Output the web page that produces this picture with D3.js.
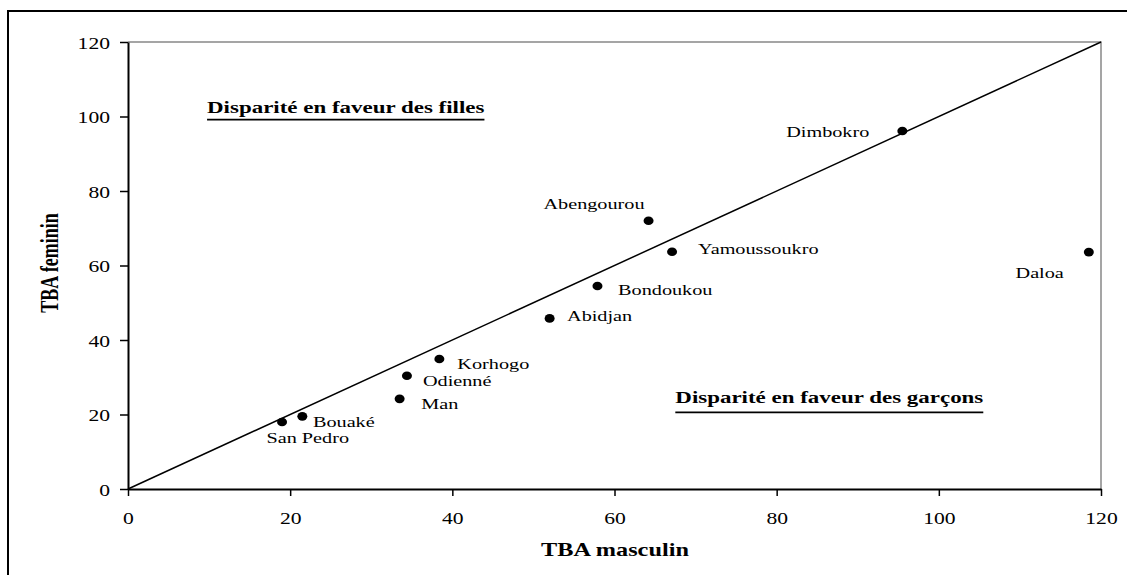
<!DOCTYPE html>
<html><head><meta charset="utf-8">
<script src="https://cdn.jsdelivr.net/npm/d3@7"></script>
<style>body{margin:0;background:#fff} text{font-family:"Liberation Serif","Times New Roman",Tinos,"DejaVu Serif",serif}</style>
</head><body>
<svg id="c" width="1127" height="575"></svg>
<script>
// ---- data ----
const cities = ["San Pedro","Bouaké","Man","Odienné","Korhogo","Abidjan","Bondoukou","Abengourou","Yamoussoukro","Dimbokro","Daloa"];
const tbaMasculin = [19.0, 21.5, 33.5, 34.4, 38.4, 52.0, 57.9, 64.2, 67.1, 95.5, 118.5];
const tbaFeminin  = [18.0, 19.5, 24.2, 30.4, 34.9, 45.8, 54.5, 72.0, 63.7, 96.1, 63.6];
const xTicks = [0, 20, 40, 60, 80, 100, 120];
const yTicks = [0, 20, 40, 60, 80, 100, 120];
const xTitle = "TBA masculin";
const yTitle = "TBA feminin";
const zoneTexts = ["Disparité en faveur des filles", "Disparité en faveur des garçons"];
const parityLine = [[0, 0], [120, 120]];

// ---- layout / style (not data) ----
const SX = 1.35; // horizontal stretch of the original rendering
const plot = {left: 128, right: 1101, top: 42, bottom: 489};
const labelLayout = {
  "San Pedro": [-15.6, 21, "start"],
  "Bouaké": [10.6, 11, "start"],
  "Man": [21.7, 10.6, "start"],
  "Odienné": [16, 10, "start"],
  "Korhogo": [18, 10, "start"],
  "Abidjan": [17.4, 2.4, "start"],
  "Bondoukou": [20.6, 9, "start"],
  "Abengourou": [-4, -12, "end"],
  "Yamoussoukro": [26, 2.5, "start"],
  "Dimbokro": [-33, 6, "end"],
  "Daloa": [-25, 26, "end"]
};
const zoneLayout = [{x: 9.75, y: 100.9, ul: 6.5}, {x: 67.5, y: 23.1, ul: 9.5}];

const svg = d3.select("#c");
const x = d3.scaleLinear().domain([0, 120]).range([plot.left, plot.right]);
const y = d3.scaleLinear().domain([0, 120]).range([plot.bottom, plot.top]);

function stext(g, tx, ty, str, opts) {
  return g.append("text")
    .attr("transform", `translate(${tx},${ty}) scale(${opts.sx || SX},1)` + (opts.rot ? ` rotate(${opts.rot})` : ""))
    .attr("text-anchor", opts.anchor || "start")
    .style("font-size", opts.size + "px")
    .style("font-weight", opts.bold ? "bold" : "normal")
    .attr("fill", "#000")
    .text(str);
}

// outer frame
svg.append("rect").attr("x", 8).attr("y", 11).attr("width", 1140).attr("height", 600)
  .attr("fill", "none").attr("stroke", "#000").attr("stroke-width", 2);

// plot area gray border (top + right)
svg.append("path")
  .attr("d", `M${plot.left},${plot.top}H${plot.right}V${plot.bottom}`)
  .attr("fill", "none").attr("stroke", "#888").attr("stroke-width", 1.5);

// parity line
svg.append("path")
  .attr("d", d3.line().x(d => x(d[0])).y(d => y(d[1]))(parityLine))
  .attr("fill", "none").attr("stroke", "#000").attr("stroke-width", 1.5);

// axes
const gx = svg.append("g").attr("transform", `translate(0,${plot.bottom})`)
  .call(d3.axisBottom(x).tickValues(xTicks).tickSize(7).tickSizeOuter(0).tickPadding(0));
const gy = svg.append("g").attr("transform", `translate(${plot.left},0)`)
  .call(d3.axisLeft(y).tickValues(yTicks).tickSize(8).tickSizeOuter(0).tickPadding(0));
[gx, gy].forEach(g => {
  g.attr("font-family", null).attr("font-size", null);
  g.select(".domain").attr("stroke", "#000").attr("stroke-width", 2);
  g.selectAll(".tick line").attr("stroke", "#000").attr("stroke-width", 1.5);
  g.selectAll(".tick text").style("font-size", "17px").attr("fill", "#000");
});
const TSX = 1.27;
gx.selectAll(".tick text").attr("y", null).attr("dy", null)
  .attr("transform", `translate(0,35) scale(${TSX},1)`);
gy.selectAll(".tick text").attr("x", null).attr("dy", null)
  .attr("transform", `translate(-18,6) scale(${TSX},1)`);

// axis titles
stext(svg, 615, 556, xTitle, {size: 18, bold: true, anchor: "middle"});
stext(svg, 58, 263, yTitle, {size: 18, bold: true, anchor: "middle", rot: -90, sx: 1.35});

// points
const pts = cities.map((c, i) => ({c, m: tbaMasculin[i], f: tbaFeminin[i]}));
svg.append("g").selectAll("ellipse").data(pts).join("ellipse")
  .attr("cx", d => x(d.m)).attr("cy", d => y(d.f))
  .attr("rx", 5).attr("ry", 4.3).attr("fill", "#000");

const lg = svg.append("g");
pts.forEach(d => {
  const L = labelLayout[d.c];
  stext(lg, x(d.m) + L[0], y(d.f) + L[1], d.c, {size: 15, anchor: L[2]});
});

// zone texts with underline
zoneTexts.forEach((t, i) => {
  const z = zoneLayout[i];
  const tx = x(z.x), ty = y(z.y);
  const el = stext(svg, tx, ty, t, {size: 17, bold: true});
  const w = el.node().getComputedTextLength() * SX;
  svg.append("line").attr("x1", tx).attr("x2", tx + w)
    .attr("y1", ty + z.ul).attr("y2", ty + z.ul)
    .attr("stroke", "#000").attr("stroke-width", 1.8);
});
</script>
</body></html>
